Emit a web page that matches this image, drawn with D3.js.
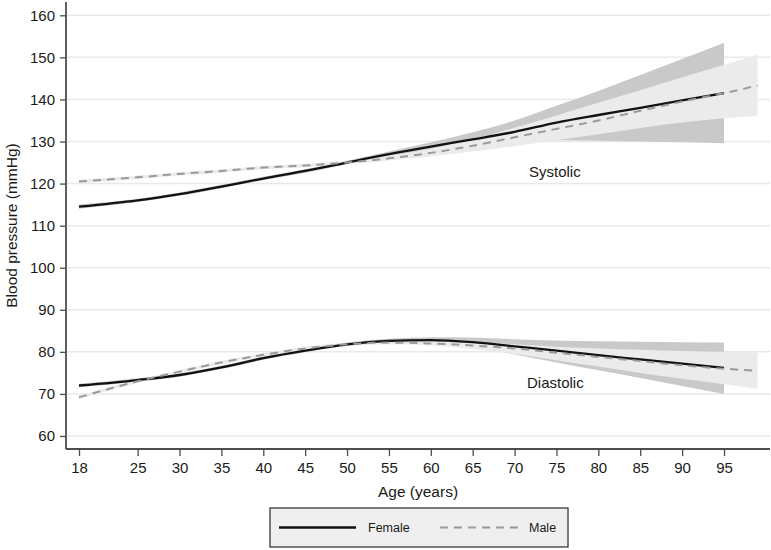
<!DOCTYPE html>
<html>
<head>
<meta charset="utf-8">
<script src="https://cdn.jsdelivr.net/npm/d3@7"></script>
<style>
  body { margin: 0; background: #fff; }
  svg { display: block; font-family: "Liberation Sans", Arial, Helvetica, sans-serif; }
</style>
</head>
<body>
<svg id="chart" width="771" height="550"></svg>
<script>
// ---- Data ----
const femaleAges = [18, 25, 30, 35, 40, 45, 50, 55, 60, 65, 70, 75, 80, 85, 90, 95];
const maleAges   = [18, 25, 30, 35, 40, 45, 50, 55, 60, 65, 70, 75, 80, 85, 90, 95, 99];

const femaleSys   = [114.5, 116.0, 117.5, 119.3, 121.2, 123.0, 125.0, 127.0, 128.8, 130.5, 132.3, 134.5, 136.3, 138.0, 139.8, 141.5];
const femaleSysLo = [114.0, 115.6, 117.1, 118.9, 120.8, 122.6, 124.6, 126.5, 128.0, 129.3, 130.2, 130.3, 130.2, 130.0, 129.8, 129.6];
const femaleSysHi = [115.0, 116.4, 117.9, 119.7, 121.6, 123.4, 125.4, 127.6, 129.8, 132.2, 135.0, 138.5, 142.0, 145.8, 149.6, 153.5];

const maleSys   = [120.5, 121.5, 122.3, 123.0, 123.8, 124.3, 125.0, 126.0, 127.3, 129.0, 131.0, 133.0, 135.0, 137.3, 139.5, 141.5, 143.3];
const maleSysLo = [120.1, 121.1, 121.9, 122.6, 123.4, 123.9, 124.6, 125.5, 126.5, 127.6, 128.9, 130.3, 131.7, 133.2, 134.5, 135.5, 136.1];
const maleSysHi = [120.9, 121.9, 122.7, 123.4, 124.2, 124.7, 125.4, 126.6, 128.3, 130.6, 133.3, 136.2, 139.2, 142.2, 145.3, 148.2, 150.6];

const femaleDia   = [72.0, 73.3, 74.5, 76.3, 78.5, 80.3, 81.8, 82.6, 82.8, 82.3, 81.3, 80.3, 79.2, 78.2, 77.2, 76.2];
const femaleDiaLo = [71.6, 72.9, 74.1, 75.9, 78.1, 79.9, 81.4, 82.1, 82.1, 81.1, 79.4, 77.5, 75.6, 73.8, 71.9, 70.0];
const femaleDiaHi = [72.4, 73.7, 74.9, 76.7, 78.9, 80.7, 82.2, 83.1, 83.5, 83.4, 83.0, 82.7, 82.5, 82.4, 82.3, 82.2];

const maleDia   = [69.2, 73.0, 75.3, 77.5, 79.3, 80.8, 81.8, 82.2, 82.0, 81.5, 80.8, 79.8, 78.8, 77.8, 76.8, 76.0, 75.5];
const maleDiaLo = [68.8, 72.6, 74.9, 77.1, 78.9, 80.4, 81.4, 81.8, 81.5, 80.7, 79.5, 78.0, 76.5, 75.0, 73.6, 72.3, 71.2];
const maleDiaHi = [69.6, 73.4, 75.7, 77.9, 79.7, 81.2, 82.2, 82.6, 82.5, 82.2, 81.8, 81.2, 80.8, 80.5, 80.2, 80.0, 79.9];

const xTicks = [18, 25, 30, 35, 40, 45, 50, 55, 60, 65, 70, 75, 80, 85, 90, 95];
const yTicks = [60, 70, 80, 90, 100, 110, 120, 130, 140, 150, 160];
const seriesNames = ["Female", "Male"];
const panelLabels = ["Systolic", "Diastolic"];

// ---- Layout ----
const svg = d3.select("#chart");
const plotLeft = 66, plotRight = 770, plotTop = 2, plotBottom = 449;

const x = d3.scaleLinear().domain([18, 95]).range([79, 724]);
const y = d3.scaleLinear().domain([60, 160]).range([436, 15.3]);

const textColor = "#1a1a1a";
const axisColor = "#4d4d4d";

// gridlines
svg.append("g")
  .selectAll("line")
  .data(yTicks)
  .join("line")
  .attr("x1", plotLeft + 1)
  .attr("x2", plotRight)
  .attr("y1", d => y(d))
  .attr("y2", d => y(d))
  .attr("stroke", "#e9e9e9")
  .attr("stroke-width", 1.5);

// bands
function band(ages, lo, hi) {
  const pts = ages.map((a, i) => ({ a, lo: lo[i], hi: hi[i] }));
  return d3.area()
    .x(d => x(d.a))
    .y0(d => y(d.lo))
    .y1(d => y(d.hi))
    .curve(d3.curveMonotoneX)(pts);
}
function line(ages, vals) {
  const pts = ages.map((a, i) => ({ a, v: vals[i] }));
  return d3.line()
    .x(d => x(d.a))
    .y(d => y(d.v))
    .curve(d3.curveMonotoneX)(pts);
}

const darkBand = "#c9c9c9";
const lightBand = "#ebebeb";

svg.append("path").attr("d", band(femaleAges, femaleSysLo, femaleSysHi)).attr("fill", darkBand);
svg.append("path").attr("d", band(femaleAges, femaleDiaLo, femaleDiaHi)).attr("fill", darkBand);
svg.append("path").attr("d", band(maleAges, maleSysLo, maleSysHi)).attr("fill", lightBand);
svg.append("path").attr("d", band(maleAges, maleDiaLo, maleDiaHi)).attr("fill", lightBand);

// lines
const femaleStyle = { stroke: "#111", width: 2.3, dash: null };
const maleStyle = { stroke: "#9a9a9a", width: 2, dash: "8,6" };

function drawLine(d, st) {
  const p = svg.append("path").attr("d", d)
    .attr("fill", "none")
    .attr("stroke", st.stroke)
    .attr("stroke-width", st.width);
  if (st.dash) p.attr("stroke-dasharray", st.dash);
}
drawLine(line(femaleAges, femaleSys), femaleStyle);
drawLine(line(femaleAges, femaleDia), femaleStyle);
drawLine(line(maleAges, maleSys), maleStyle);
drawLine(line(maleAges, maleDia), maleStyle);

// axes
const yAxis = d3.axisLeft(y).tickValues(yTicks).tickSize(6).tickPadding(5).tickSizeOuter(0);
const gy = svg.append("g").attr("transform", `translate(${plotLeft},0)`).call(yAxis);
gy.select(".domain").remove();
gy.append("line").attr("x1", 0).attr("x2", 0).attr("y1", plotTop).attr("y2", plotBottom)
  .attr("stroke", axisColor).attr("stroke-width", 1.8);
gy.selectAll(".tick line").attr("stroke", axisColor).attr("stroke-width", 1.3);
gy.selectAll(".tick text").attr("fill", textColor).attr("font-size", 15)
  .attr("font-family", "'Liberation Sans', Arial, sans-serif");

const xAxis = d3.axisBottom(x).tickValues(xTicks).tickSize(7).tickPadding(6).tickSizeOuter(0);
const gx = svg.append("g").attr("transform", `translate(0,${plotBottom})`).call(xAxis);
gx.select(".domain").remove();
gx.append("line").attr("x1", plotLeft).attr("x2", plotRight).attr("y1", 0).attr("y2", 0)
  .attr("stroke", axisColor).attr("stroke-width", 1.8);
gx.selectAll(".tick line").attr("stroke", axisColor).attr("stroke-width", 1.3);
gx.selectAll(".tick text").attr("fill", textColor).attr("font-size", 15)
  .attr("font-family", "'Liberation Sans', Arial, sans-serif");

// axis titles
svg.append("text")
  .attr("x", (plotLeft + plotRight) / 2)
  .attr("y", 497)
  .attr("text-anchor", "middle")
  .attr("font-size", 15.5)
  .attr("fill", textColor)
  .text("Age (years)");

svg.append("text")
  .attr("transform", `translate(17, ${(plotTop + plotBottom) / 2}) rotate(-90)`)
  .attr("text-anchor", "middle")
  .attr("font-size", 15.5)
  .attr("fill", textColor)
  .text("Blood pressure (mmHg)");

// panel labels
svg.append("text").attr("x", 529).attr("y", 177).attr("font-size", 15).attr("fill", textColor).text(panelLabels[0]);
svg.append("text").attr("x", 527).attr("y", 388).attr("font-size", 15).attr("fill", textColor).text(panelLabels[1]);

// legend
const lg = svg.append("g");
lg.append("rect").attr("x", 270).attr("y", 508).attr("width", 298).attr("height", 39)
  .attr("fill", "#efefef").attr("stroke", "#3a3a3a").attr("stroke-width", 1.3);
lg.append("line").attr("x1", 279).attr("x2", 356).attr("y1", 527.5).attr("y2", 527.5)
  .attr("stroke", femaleStyle.stroke).attr("stroke-width", femaleStyle.width);
lg.append("text").attr("x", 368).attr("y", 532).attr("font-size", 12.5).attr("fill", textColor).text(seriesNames[0]);
lg.append("line").attr("x1", 440).attr("x2", 518).attr("y1", 527.5).attr("y2", 527.5)
  .attr("stroke", maleStyle.stroke).attr("stroke-width", maleStyle.width).attr("stroke-dasharray", maleStyle.dash);
lg.append("text").attr("x", 529).attr("y", 532).attr("font-size", 12.5).attr("fill", textColor).text(seriesNames[1]);
</script>
</body>
</html>
